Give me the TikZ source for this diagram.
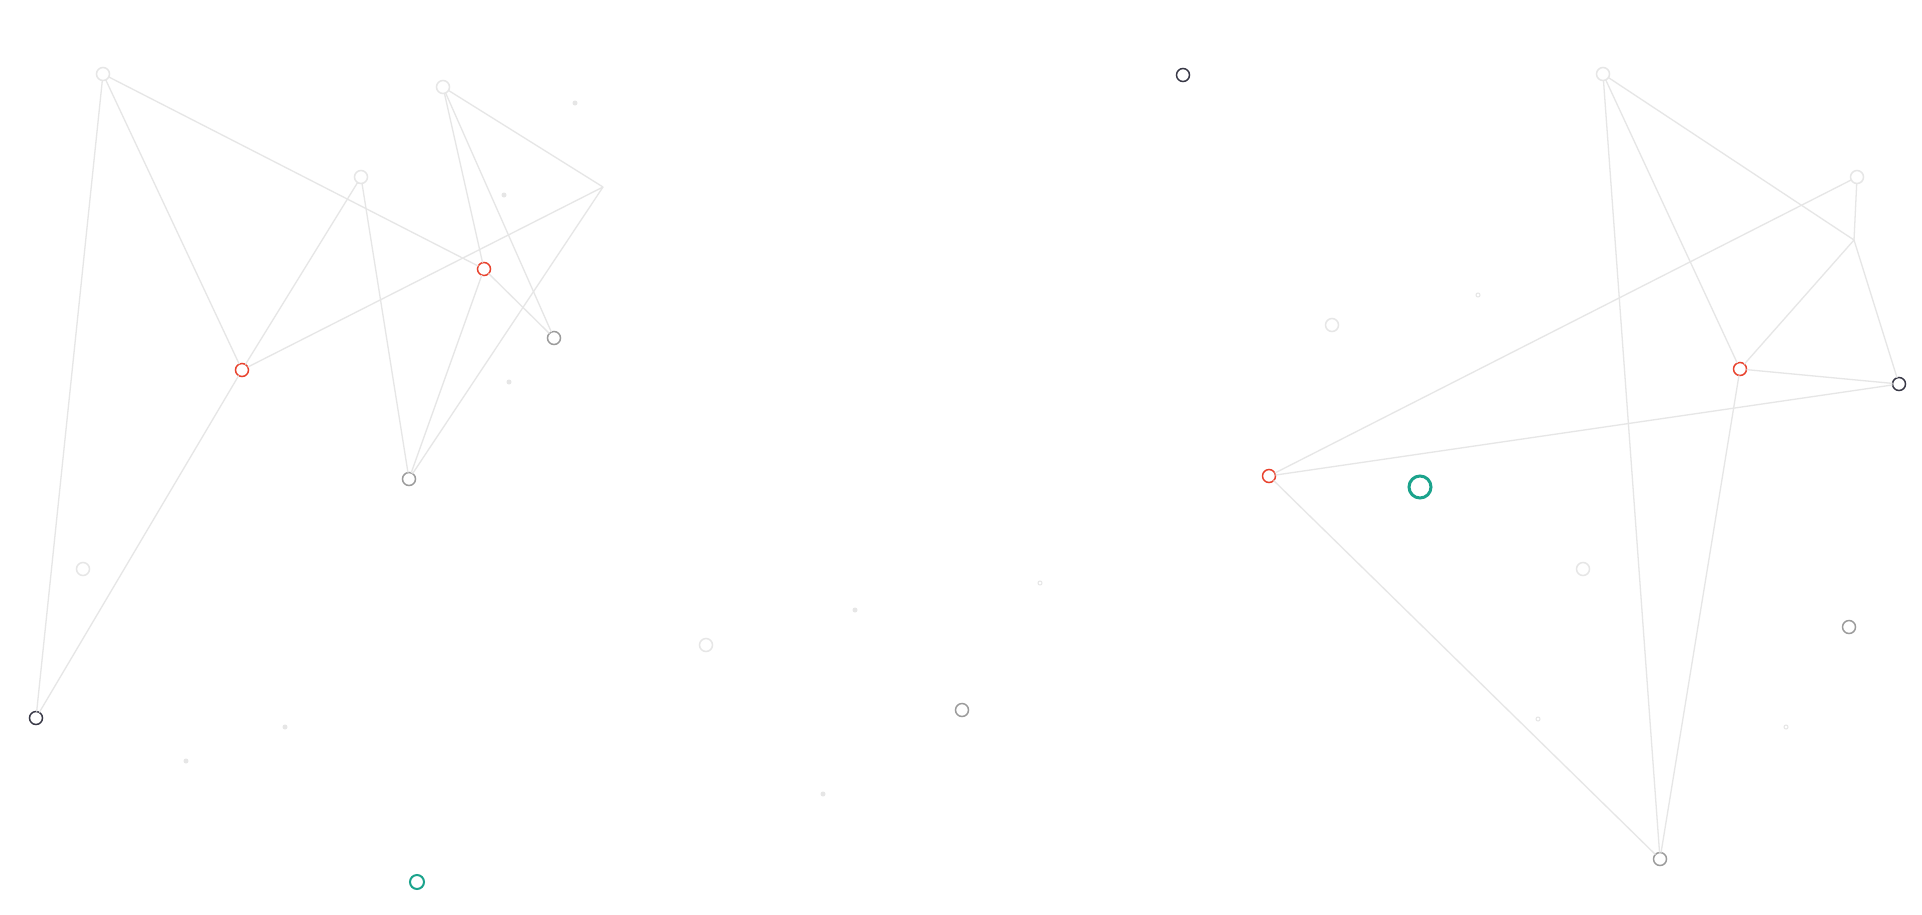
\documentclass[tikz,border=0pt]{standalone}
\usepackage{tikz}
\usetikzlibrary{calc}
\definecolor{netline}{HTML}{E6E6E6}
\definecolor{netred}{HTML}{E8412C}
\definecolor{netgrey}{HTML}{9B9B9B}
\definecolor{netdark}{HTML}{383846}
\definecolor{netgreen}{HTML}{1BA38C}
\tikzset{
	network/.style={
		x=1pt, y=-1pt,
		every node/.style={inner sep=0pt, outer sep=0pt},
		link/.style={draw=netline, line width=1.3pt},
		execute at begin picture={\useasboundingbox[fill=white] (0,0) rectangle (1922,914);}
		},
	pt/.style={circle, draw=#1, fill=white, minimum size=13pt, line width=1.5pt},
	pt light/.style={pt=netline},
	pt red/.style={pt=netred},
	pt grey/.style={pt=netgrey},
	pt dark/.style={pt=netdark},
	pt green/.style={pt=netgreen, minimum size=14pt, line width=2pt},
	pt big/.style={pt=netgreen, minimum size=22pt, line width=3pt},
	dot/.style={circle, fill=netline, minimum size=5pt},
	ring/.style={circle, draw=netline, minimum size=4pt, line width=1pt}
}

\begin{document}
\begin{tikzpicture}[network]
  % left cluster
  \node[pt light] (A) at (103,74) {};
  \node[pt light] (B) at (443,87) {};
  \node[pt light] (C) at (361,177) {};
  \coordinate (D) at (603,187);
  \node[pt red] (E) at (484,269) {};
  \node[pt grey] (F) at (554,338) {};
  \node[pt red] (G) at (242,370) {};
  \node[pt grey] (H) at (409,479) {};
  \node[pt dark] (I) at (36,718) {};
  \node[pt light] (J) at (83,569) {};
  \node[pt light] (K) at (706,645) {};
  \node[pt grey] (L) at (962,710) {};
  \node[pt green] (M) at (417,882) {};
  % right cluster
  \node[pt dark] (Y) at (1183,75) {};
  \node[pt light] (N) at (1603,74) {};
  \node[pt light] (O) at (1857,177) {};
  \coordinate (P) at (1854,240);
  \node[pt red] (Q) at (1740,369) {};
  \node[pt dark] (R) at (1899,384) {};
  \node[pt red] (S) at (1269,476) {};
  \node[pt big] (T) at (1420,487) {};
  \node[pt light] (U) at (1332,325) {};
  \node[pt light] (V) at (1583,569) {};
  \node[pt grey] (W) at (1849,627) {};
  \node[pt grey] (X) at (1660,859) {};
  % loose specks
  \foreach \p [count=\i] in {(575,103),(504,195),(509,382),(285,727),(186,761),(855,610),(823,794)}
    \node[dot] (d\i) at \p {};
  \foreach \p [count=\i] in {(1040,583),(1478,295),(1538,719),(1786,727)}
    \node[ring] (r\i) at \p {};
  % links
  \draw[link] (A) -- (I);
  \draw[link] (A) -- (G);
  \draw[link] (A) -- (E);
  \draw[link] (E) -- (F);
  \draw[link] (G) -- (C);
  \draw[link] (G) -- (D);
  \draw[link] (G) -- (I);
  \draw[link] (C) -- (H);
  \draw[link] (B) -- (E);
  \draw[link] (B) -- (F);
  \draw[link] (B) -- (D);
  \draw[link] (E) -- (H);
  \draw[link] (D) -- (H);
  \draw[link] (N) -- (X);
  \draw[link] (N) -- (Q);
  \draw[link] (N) -- (P);
  \draw[link] (O) -- (P);
  \draw[link] (O) -- (S);
  \draw[link] (P) -- (Q);
  \draw[link] (P) -- (R);
  \draw[link] (Q) -- (R);
  \draw[link] (S) -- (R);
  \draw[link] (Q) -- (X);
  \draw[link] (S) -- (X);
\end{tikzpicture}
\end{document}
